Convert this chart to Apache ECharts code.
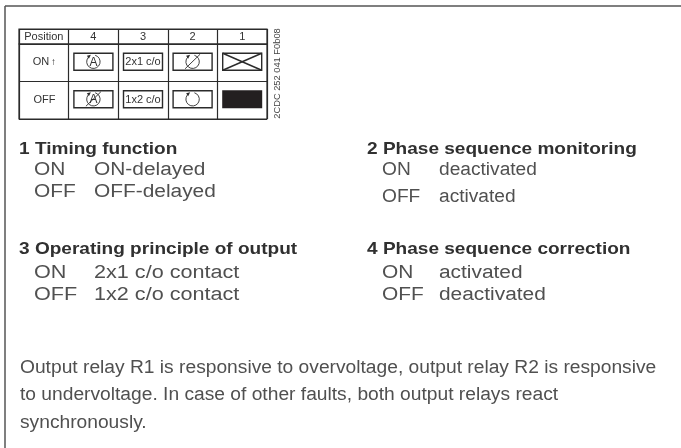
<!DOCTYPE html>
<html>
<head>
<meta charset="utf-8">
<style>
  html, body { margin: 0; padding: 0; background: #fff; }
  #chart { width: 681px; height: 448px; }
</style>
<script src="https://cdn.jsdelivr.net/npm/echarts@6/dist/echarts.min.js"></script>
</head>
<body>
<div id="chart"></div>
<script>
const headerCols = ['Position', '4', '3', '2', '1']
const switchRows = ['ON', 'OFF']
// [column, row, symbol]
const switchCells = [
  ['4', 'ON', 'auto'], ['3', 'ON', '2x1 c/o'], ['2', 'ON', 'slash'], ['1', 'ON', 'cross'],
  ['4', 'OFF', 'autoOff'], ['3', 'OFF', '1x2 c/o'], ['2', 'OFF', 'ring'], ['1', 'OFF', 'solid']
]
const partCode = '2CDC 252 041 F0b08'

const blockTitles = ['1 Timing function', '2 Phase sequence monitoring', '3 Operating principle of output', '4 Phase sequence correction']
const blockKeys = ['ON', 'OFF']
const block1 = ['ON-delayed', 'OFF-delayed']
const block2 = ['deactivated', 'activated']
const block3 = ['2x1 c/o contact', '1x2 c/o contact']
const block4 = ['activated', 'deactivated']
const noteLines = [
  'Output relay R1 is responsive to overvoltage, output relay R2 is responsive',
  'to undervoltage. In case of other faults, both output relays react',
  'synchronously.'
]

const FONT = '"Liberation Sans", Arial, sans-serif'
const LINE = '#2b2b2b'
const BODY = '#505050'
const HEAD = '#303030'

function tableAxes(cols, rows, gridIndex) {
  return {
    x: {
      type: 'category', gridIndex, data: cols,
      axisLine: { show: false }, axisTick: { show: false }, axisLabel: { show: false },
      splitLine: { show: true, interval: 0, lineStyle: { color: LINE, width: 1.2 } }
    },
    y: {
      type: 'category', gridIndex, data: rows, inverse: true,
      axisLine: { show: false }, axisTick: { show: false }, axisLabel: { show: false },
      splitLine: { show: true, interval: 0, lineStyle: { color: LINE, width: 1.2 } }
    }
  }
}

function renderHeader(params, api) {
  const p = api.coord([api.value(0), 0])
  return {
    type: 'text',
    style: {
      x: p[0], y: p[1] + 0.5, text: headerCols[api.value(0)], align: 'center', verticalAlign: 'middle',
      font: '11px ' + FONT, fill: '#333'
    }
  }
}

function renderSymbol(params, api) {
  const c = api.coord([api.value(0), api.value(1)])
  const cy = c[1] - 1
  const symbol = switchCells[params.dataIndex][2]
  const w = 39, h = 17
  const x = c[0] - w / 2, y = cy - h / 2
  const stroke = { stroke: LINE, fill: 'none', lineWidth: 1.4 }
  const thin = { stroke: LINE, fill: 'none', lineWidth: 0.9 }
  const kids = []
  if (symbol === 'solid') {
    kids.push({ type: 'rect', shape: { x: x - 0.5, y: y - 0.5, width: w + 1, height: h + 1 }, style: { fill: '#231f20' } })
  } else {
    kids.push({ type: 'rect', shape: { x, y, width: w, height: h }, style: stroke })
  }
  if (symbol === 'cross') {
    kids.push({ type: 'line', shape: { x1: x, y1: y, x2: x + w, y2: y + h }, style: stroke })
    kids.push({ type: 'line', shape: { x1: x, y1: y + h, x2: x + w, y2: y }, style: stroke })
  }
  if (symbol.indexOf('c/o') > 0) {
    kids.push({ type: 'text', style: { x: c[0], y: cy + 0.5, text: symbol, align: 'center', verticalAlign: 'middle', font: '11px ' + FONT, fill: '#333' } })
  }
  if (symbol === 'auto' || symbol === 'autoOff' || symbol === 'slash' || symbol === 'ring') {
    kids.push({ type: 'arc', shape: { cx: c[0], cy, r: 6.7, startAngle: -1.3, endAngle: 4.0 }, style: thin })
    kids.push({ type: 'polygon', shape: { points: [[c[0] - 6.5, cy - 6], [c[0] - 2.5, cy - 7], [c[0] - 4.5, cy - 3]] }, style: { fill: LINE } })
  }
  if (symbol === 'auto' || symbol === 'autoOff') {
    kids.push({ type: 'text', style: { x: c[0], y: cy + 0.5, text: 'A', align: 'center', verticalAlign: 'middle', font: '12px ' + FONT, fill: '#333' } })
  }
  if (symbol === 'autoOff' || symbol === 'slash') {
    kids.push({ type: 'line', shape: { x1: c[0] - 7.5, y1: cy + 7, x2: c[0] + 7.5, y2: cy - 7.5 }, style: thin })
  }
  return { type: 'group', children: kids }
}

const headAxes = tableAxes(headerCols, [''], 0)
const bodyAxes = tableAxes(headerCols, switchRows, 1)

// the original type is wider than Liberation, so stretch it to the same run length
const textEls = []
function addText(x, y, text, font, fill, stretch) {
  textEls.push({ type: 'text', x, y, scaleX: stretch, style: { text, font: font + ' ' + FONT, fill, verticalAlign: 'middle' } })
}
function addBlock(x, yTitle, title, keyX, valX, yOn, yOff, vals, stretch) {
  addText(x, yTitle, title, 'bold 17px', HEAD, 1.12)
  addText(keyX, yOn, blockKeys[0], '18px', BODY, stretch)
  addText(keyX, yOff, blockKeys[1], '18px', BODY, stretch)
  addText(valX, yOn, vals[0], '18px', BODY, stretch)
  addText(valX, yOff, vals[1], '18px', BODY, stretch)
}
addBlock(19, 149, blockTitles[0], 34, 94, 170, 192, block1, 1.16)
addBlock(367, 149, blockTitles[1], 382, 439, 170, 197, block2, 1.063)
addBlock(19, 249, blockTitles[2], 34, 94, 273, 295, block3, 1.2)
addBlock(367, 249, blockTitles[3], 382, 439, 273, 295, block4, 1.16)
noteLines.forEach((line, i) => addText(20, 368 + i * 27.5, line, '18px', BODY, 1.067))

const chart = echarts.init(document.getElementById('chart'), null, { renderer: 'canvas' })
chart.setOption({
  animation: false,
  backgroundColor: '#fff',
  grid: [
    { left: 19, top: 29, width: 248, height: 15, show: true, borderColor: LINE, borderWidth: 1.2, backgroundColor: 'transparent' },
    { left: 19, top: 44, width: 248, height: 75, show: true, borderColor: LINE, borderWidth: 1.2, backgroundColor: 'transparent' }
  ],
  xAxis: [headAxes.x, bodyAxes.x],
  yAxis: [headAxes.y, bodyAxes.y],
  series: [
    {
      type: 'custom', xAxisIndex: 0, yAxisIndex: 0, renderItem: renderHeader, silent: true,
      data: headerCols.map((c, i) => [i, 0]), encode: { x: 0, y: 1 }
    },
    {
      type: 'custom', xAxisIndex: 1, yAxisIndex: 1, renderItem: renderSymbol, silent: true, clip: false,
      data: switchCells.map(c => [headerCols.indexOf(c[0]), switchRows.indexOf(c[1])]), encode: { x: 0, y: 1 }
    }
  ],
  graphic: { elements: [
    // outer frame
    { type: 'line', shape: { x1: 5, y1: 6, x2: 681, y2: 6 }, style: { stroke: '#555', lineWidth: 1.5 } },
    { type: 'line', shape: { x1: 5, y1: 6, x2: 5, y2: 448 }, style: { stroke: '#555', lineWidth: 1.5 } },
    // row labels and part code
    { type: 'text', x: 41, y: 62, style: { text: switchRows[0], font: '11px ' + FONT, fill: '#333', align: 'center', verticalAlign: 'middle' } },
    { type: 'text', x: 53.5, y: 62, style: { text: '↑', font: 'bold 10px ' + FONT, fill: '#222', align: 'center', verticalAlign: 'middle' } },
    { type: 'text', x: 44.5, y: 100, style: { text: switchRows[1], font: '11px ' + FONT, fill: '#333', align: 'center', verticalAlign: 'middle' } },
    { type: 'text', x: 277, y: 73.5, rotation: Math.PI / 2, style: { text: partCode, font: '9.3px ' + FONT, fill: '#444', align: 'center', verticalAlign: 'middle' } }
  ].concat(textEls) }
})
</script>
</body>
</html>
